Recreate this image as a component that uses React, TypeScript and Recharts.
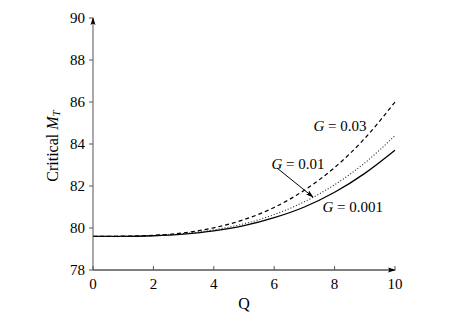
import {
  LineChart,
  Line,
  XAxis,
  YAxis,
  Label,
  ReferenceDot,
  ReferenceLine,
} from "recharts";

const qValues = [0, 1, 2, 3, 4, 5, 6, 7, 8, 9, 10];
const g001 = [79.6, 79.6, 79.63, 79.71, 79.86, 80.11, 80.49, 81.0, 81.7, 82.6, 83.7];
const g01 = [79.6, 79.6, 79.64, 79.73, 79.91, 80.2, 80.64, 81.25, 82.06, 83.1, 84.4];
const g03 = [79.6, 79.61, 79.65, 79.77, 80.01, 80.4, 80.98, 81.8, 82.88, 84.27, 86.0];

const xTicks = [0, 2, 4, 6, 8, 10];
const yTicks = [78, 80, 82, 84, 86, 88, 90];

const data = qValues.map((q, i) => ({ q, g001: g001[i], g01: g01[i], g03: g03[i] }));

const font = "Liberation Serif";

const gLabel = (value: string) => (p: any) => (
  <text
    x={p.cx}
    y={p.cy}
    textAnchor="middle"
    dominantBaseline="central"
    style={{ fontFamily: font, fontSize: 15 }}
    fill="#000"
  >
    <tspan fontStyle="italic">G</tspan> = {value}
  </text>
);

export default function App() {
  return (
    <div style={{ position: "absolute", left: 0, top: 0, width: 473, height: 320, background: "#fff" }}>
      <LineChart
        width={473}
        height={320}
        data={data}
        margin={{ top: 18, right: 78, bottom: 0, left: 0 }}
        style={{ fontFamily: font }}
      >
        <defs>
          <marker
            id="axisArrow"
            viewBox="0 0 8 6"
            refX={7}
            refY={3}
            markerWidth={8}
            markerHeight={6}
            markerUnits="userSpaceOnUse"
            orient="auto-start-reverse"
          >
            <path d="M0,0.5 L8,3 L0,5.5 L1.5,3 Z" fill="#000" />
          </marker>
        </defs>
        <XAxis
          dataKey="q"
          type="number"
          domain={[0, 10]}
          ticks={xTicks}
          height={50}
          tickSize={-4}
          tickMargin={12}
          axisLine={{ stroke: "#000", strokeWidth: 1, markerEnd: "url(#axisArrow)" }}
          tickLine={{ stroke: "#555" }}
          tick={{ fill: "#000", fontSize: 15, style: { fontFamily: font } }}
        >
          <Label
            content={() => (
              <text x={244} y={303} textAnchor="middle" dominantBaseline="central" style={{ fontFamily: font, fontSize: 16 }} fill="#000">
                Q
              </text>
            )}
          />
        </XAxis>
        <YAxis
          type="number"
          domain={[78, 90]}
          ticks={yTicks}
          width={93}
          tickSize={4}
          tickMargin={4}
          axisLine={{ stroke: "#555", strokeWidth: 1, markerStart: "url(#axisArrow)" }}
          tickLine={{ stroke: "#555" }}
          tick={{ fill: "#000", fontSize: 15, style: { fontFamily: font } }}
        >
          <Label
            content={() => (
              <text
                x={52}
                y={146}
                transform="rotate(-90 52 146)"
                textAnchor="middle"
                dominantBaseline="central"
                style={{ fontFamily: font, fontSize: 16 }}
                fill="#000"
              >
                Critical <tspan fontStyle="italic">M</tspan>
                <tspan fontStyle="italic" fontSize={11} dy={4}>T</tspan>
              </text>
            )}
          />
        </YAxis>
        <Line type="monotone" dataKey="g001" stroke="#000" strokeWidth={1.3} dot={false} isAnimationActive={false} />
        <Line type="monotone" dataKey="g01" stroke="#222" strokeWidth={1.1} strokeDasharray="1 2" dot={false} isAnimationActive={false} />
        <Line type="monotone" dataKey="g03" stroke="#000" strokeWidth={1.2} strokeDasharray="4 3" dot={false} isAnimationActive={false} />
        <ReferenceLine
          segment={[{ x: 6.09, y: 82.86 }, { x: 7.28, y: 81.48 }]}
          stroke="#000"
          shape={(p: any) => (
            <line x1={p.x1} y1={p.y1} x2={p.x2} y2={p.y2} stroke="#000" strokeWidth={1} markerEnd="url(#axisArrow)" />
          )}
        />
        <ReferenceDot x={8.18} y={84.86} r={0} shape={gLabel("0.03")} />
        <ReferenceDot x={6.79} y={83.05} r={0} shape={gLabel("0.01")} />
        <ReferenceDot x={8.6} y={81.0} r={0} shape={gLabel("0.001")} />
      </LineChart>
    </div>
  );
}
